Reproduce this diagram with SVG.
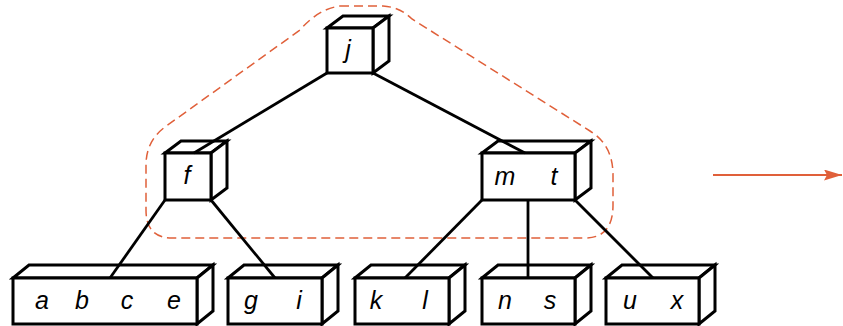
<svg xmlns="http://www.w3.org/2000/svg" width="843" height="326" viewBox="0 0 843 326">
<style>
.face{fill:#fff;stroke:#000;stroke-width:3;stroke-linejoin:miter}
.edge{stroke:#000;stroke-width:2.8;fill:none}
.lbl{font-family:"Liberation Sans",Arial,sans-serif;font-style:italic;font-size:25px;text-anchor:middle;fill:#000}
.hull{fill:none;stroke:#e0603a;stroke-width:1.5;stroke-dasharray:9 5}
</style>
<defs>
<marker id="ah" markerWidth="18" markerHeight="11" refX="18" refY="5.5" orient="auto" markerUnits="userSpaceOnUse">
<path d="M0,0 L18,5.5 L0,11 L3,5.5 Z" fill="#e0603a"/>
</marker>
</defs>
<path class="hull" d="M340,6 L383,6 Q400,7 412,19 L590,131 Q613,145 613,175 L613,205 Q613,238 585,238 L172,238 Q146,238 146,210 L146,165 Q146,141 165,127 L300,30 Q318,9 340,6 Z"/>
<g id="node-j">
<polygon class="face" points="327,28 343,16 389,16 373,28"/>
<polygon class="face" points="373,28 389,16 389,61 373,73"/>
<rect class="face" x="327" y="28" width="46" height="45"/>
<text class="lbl" x="348" y="58">j</text>
</g>
<g id="node-f">
<polygon class="face" points="165,153 181,141 227,141 211,153"/>
<polygon class="face" points="211,153 227,141 227,188 211,200"/>
<rect class="face" x="165" y="153" width="46" height="47"/>
<text class="lbl" x="187" y="184">f</text>
</g>
<g id="node-mt">
<polygon class="face" points="482,153 498,141 591,141 575,153"/>
<polygon class="face" points="575,153 591,141 591,188 575,200"/>
<rect class="face" x="482" y="153" width="93" height="47"/>
<text class="lbl" x="505" y="185">m</text>
<text class="lbl" x="554" y="185">t</text>
</g>
<g id="node-abce">
<polygon class="face" points="13,278 29,265 213,265 197,278"/>
<polygon class="face" points="197,278 213,265 213,311 197,324"/>
<rect class="face" x="13" y="278" width="184" height="46"/>
<text class="lbl" x="42" y="309">a</text>
<text class="lbl" x="82" y="309">b</text>
<text class="lbl" x="127" y="309">c</text>
<text class="lbl" x="174" y="309">e</text>
</g>
<g id="node-gi">
<polygon class="face" points="228,278 244,265 338,265 322,278"/>
<polygon class="face" points="322,278 338,265 338,311 322,324"/>
<rect class="face" x="228" y="278" width="94" height="46"/>
<text class="lbl" x="251" y="309">g</text>
<text class="lbl" x="299" y="309">i</text>
</g>
<g id="node-kl">
<polygon class="face" points="355,278 371,265 465,265 449,278"/>
<polygon class="face" points="449,278 465,265 465,311 449,324"/>
<rect class="face" x="355" y="278" width="94" height="46"/>
<text class="lbl" x="376" y="309">k</text>
<text class="lbl" x="425" y="309">l</text>
</g>
<g id="node-ns">
<polygon class="face" points="482,278 498,265 591,265 575,278"/>
<polygon class="face" points="575,278 591,265 591,311 575,324"/>
<rect class="face" x="482" y="278" width="93" height="46"/>
<text class="lbl" x="505" y="309">n</text>
<text class="lbl" x="550" y="309">s</text>
</g>
<g id="node-ux">
<polygon class="face" points="606,278 622,265 715,265 699,278"/>
<polygon class="face" points="699,278 715,265 715,311 699,324"/>
<rect class="face" x="606" y="278" width="93" height="46"/>
<text class="lbl" x="630" y="309">u</text>
<text class="lbl" x="677" y="309">x</text>
</g>
<g id="connectors">
<line class="edge" x1="327" y1="73" x2="194" y2="153"/>
<line class="edge" x1="373" y1="73" x2="525" y2="153"/>
<line class="edge" x1="165" y1="200" x2="110" y2="278"/>
<line class="edge" x1="211" y1="200" x2="275" y2="278"/>
<line class="edge" x1="482" y1="200" x2="405" y2="278"/>
<line class="edge" x1="528" y1="200" x2="528" y2="278"/>
<line class="edge" x1="575" y1="200" x2="653" y2="278"/>
<line x1="713" y1="175" x2="842" y2="175" stroke="#e0603a" stroke-width="2" marker-end="url(#ah)"/>
</g>
</svg>
